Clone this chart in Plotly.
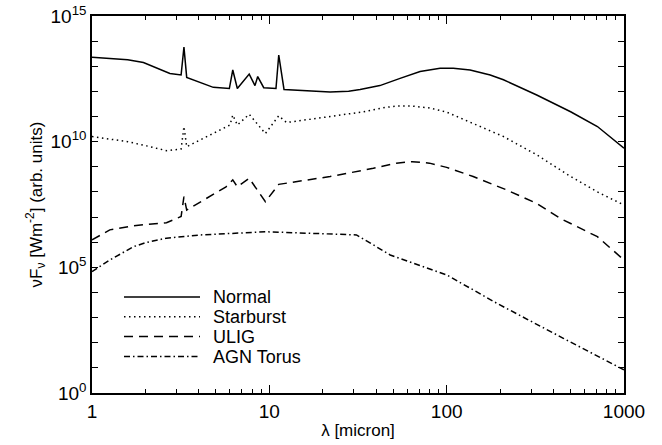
import plotly.graph_objects as go

# ---- data ----
normal_x = [1, 1.59, 1.95, 2.75, 3.18, 3.3, 3.42, 4.83, 5.95, 6.22, 6.6, 7.7, 8.3, 8.6, 9.3,
            10.9, 11.3, 12.1, 22, 28, 32.5, 42, 54.6, 70.8, 91.8, 109, 135.6, 176, 209, 322,
            500, 708, 1000]
normal_y = [2.3e13, 1.8e13, 1.4e13, 5.2e12, 4.5e12, 5.8e13, 3.6e12, 1.45e12, 1.3e12, 7.1e12,
            1.3e12, 4.9e12, 1.7e12, 3.9e12, 1.4e12, 1.3e12, 2.8e13, 1.2e12, 9.5e11, 1.02e12,
            1.2e12, 1.7e12, 3.3e12, 6.2e12, 8.3e12, 8.3e12, 7.1e12, 4.5e12, 2.9e12, 7.2e11,
            1.55e11, 4.0e10, 5.5e9]

starburst_x = [1, 1.59, 2.03, 2.63, 3.18, 3.3, 3.42, 6.0, 6.22, 6.6, 7.7, 9.5, 11.3, 12.5,
               22, 34, 45, 52, 64, 80, 100, 141, 209, 322, 500, 708, 1000]
starburst_y = [1.6e10, 1.0e10, 6.8e9, 4.4e9, 5.1e9, 4.0e10, 6.3e9, 4.6e10, 1.15e11, 4.6e10,
               1.23e11, 2.1e10, 1.07e11, 5.8e10, 1.0e11, 1.55e11, 2.3e11, 2.6e11, 2.6e11,
               2.2e11, 1.5e11, 5.4e10, 1.6e10, 3.0e9, 4.1e8, 1.0e8, 3.0e7]

ulig_x = [1, 1.26, 1.71, 2.63, 3.18, 3.3, 3.42, 5.7, 6.22, 6.6, 7.7, 9.5, 11.3, 14.3, 22,
          38.6, 52, 64, 80, 100, 141, 218, 322, 436, 500, 708, 1000]
ulig_y = [1.23e6, 3.1e6, 4.5e6, 6.0e6, 1.05e7, 6.5e7, 1.9e7, 1.6e8, 3.0e8, 1.6e8, 3.5e8,
          4.1e7, 2.0e8, 2.6e8, 4.1e8, 8.7e8, 1.4e9, 1.6e9, 1.4e9, 9.5e8, 4.1e8, 1.2e8, 3.5e7,
          8.9e6, 5.6e6, 1.66e6, 1.95e5]

agn_x = [1, 1.11, 1.26, 1.71, 2.0, 2.63, 3.2, 4.07, 9.6, 22, 31, 38.6, 48, 100, 192, 455, 1000]
agn_y = [6.8e4, 1.07e5, 1.95e5, 6.6e5, 9.5e5, 1.45e6, 1.7e6, 1.95e6, 2.6e6, 2.2e6, 1.95e6,
         7.8e5, 3.1e5, 5.0e4, 3.7e3, 150, 8.3]

series_names = ["Normal", "Starburst", "ULIG", "AGN Torus"]
x_ticks = [1, 10, 100, 1000]
x_minor = [m * d for d in (1, 10, 100) for m in range(2, 10)]
y_major_exp = [0, 5, 10, 15]
y_minor_exp = [k for k in range(0, 16) if k % 5 != 0]

# ---- styles ----
dashes = ["solid", "1.5px,3.5px", "9px,6px", "6px,3px,1.5px,3px"]
datasets = [(normal_x, normal_y), (starburst_x, starburst_y), (ulig_x, ulig_y), (agn_x, agn_y)]

fig = go.Figure()
for (xs, ys), name, dash in zip(datasets, series_names, dashes):
    fig.add_trace(go.Scatter(x=xs, y=ys, mode="lines", name=name, showlegend=False,
                             line=dict(color="black", width=1.5, dash=dash)))

FONT = "Liberation Sans, Arial, Helvetica, sans-serif"

# manual legend in paper coordinates
L, R, T, B = 92, 38, 16, 52
W, H = 662, 445
pw, ph = W - L - R, H - T - B
leg_rows = [297.0, 316.7, 336.5, 356.5]
for name, dash, py in zip(series_names, dashes, leg_rows):
    yp = (H - B - py) / ph
    fig.add_shape(type="line", xref="paper", yref="paper",
                  x0=(124 - L) / pw, x1=(200 - L) / pw, y0=yp, y1=yp,
                  line=dict(color="black", width=1.5, dash=dash))
    fig.add_annotation(xref="paper", yref="paper", x=(212 - L) / pw, y=yp,
                       text=name, showarrow=False, xanchor="left", yanchor="middle",
                       borderpad=0,
                       font=dict(size=18, color="black", family=FONT))

fig.update_layout(
    width=W, height=H,
    margin=dict(l=L, r=R, t=T, b=B),
    plot_bgcolor="white", paper_bgcolor="white",
    font=dict(family=FONT, size=17, color="black"),
    xaxis=dict(type="log", range=[0, 3], tickvals=x_ticks, ticktext=[str(v) for v in x_ticks],
               automargin=False,
               ticks="inside", ticklen=8, tickwidth=1, tickcolor="black",
               showline=True, linecolor="black", linewidth=1.5, mirror="ticks",
               showgrid=False, zeroline=False,
               minor=dict(tickvals=x_minor, ticks="inside", ticklen=4, tickwidth=1,
                          tickcolor="black", showgrid=False),
               title=dict(text="λ [micron]", font=dict(size=17), standoff=4),
               tickfont=dict(size=19)),
    yaxis=dict(type="log", range=[0, 15],
               automargin=False,
               tickvals=[10.0 ** k for k in y_major_exp],
               ticktext=["10<sup>%d</sup>" % k for k in y_major_exp],
               ticks="inside", ticklen=6, tickwidth=1, tickcolor="black",
               showline=True, linecolor="black", linewidth=1.5, mirror="ticks",
               showgrid=False, zeroline=False,
               minor=dict(tickvals=[10.0 ** k for k in y_minor_exp], ticks="inside",
                          ticklen=6, tickwidth=1, tickcolor="black", showgrid=False),
               title=dict(text="νF<sub>ν</sub> [Wm<sup>-2</sup>] (arb. units)",
                          font=dict(size=17), standoff=4),
               tickfont=dict(size=19)),
)

fig.write_html("out.html")
